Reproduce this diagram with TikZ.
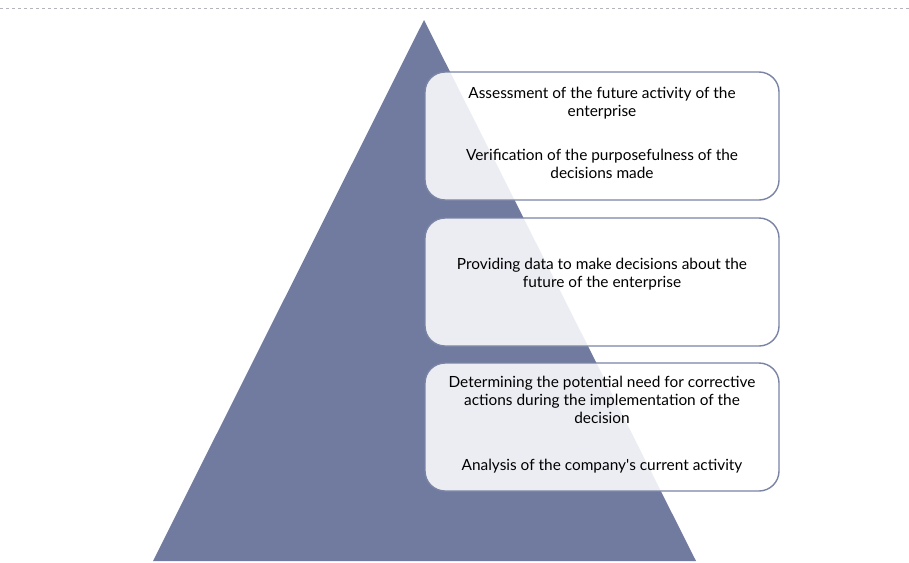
\documentclass[tikz,border=0pt]{standalone}
\usepackage{fontspec}
\setmainfont{Lato}
\definecolor{tri}{RGB}{113,123,160}
\definecolor{edgecol}{RGB}{122,132,165}
\definecolor{dashcol}{RGB}{180,180,188}
\tikzset{
  infobox/.style={draw=edgecol, line width=1.4pt, rounded corners=20pt, fill=white, fill opacity=0.87, text opacity=1},
  boxtext/.style={align=center, font=\fontsize{15.4}{18}\selectfont, text=black}
}
\begin{document}
\begin{tikzpicture}[x=1pt,y=-1pt]
\useasboundingbox (0,0) rectangle (909,562);
\draw[draw=dashcol, dashed, line width=1pt] (0,8) -- (909,8);
\fill[tri] (424,20) -- (696,561) -- (153,561) -- cycle;
\draw[infobox] (425,72) rectangle (779,200);
\draw[infobox] (425,218) rectangle (779,346);
\draw[infobox] (425,363) rectangle (779,491);
\node[boxtext] (t1) at (602,103) {Assessment of the future activity of the\\enterprise};
\node[boxtext] (t2) at (602,164) {Verification of the purposefulness of the\\decisions made};
\node[boxtext] (t3) at (602,274) {Providing data to make decisions about the\\future of the enterprise};
\node[boxtext] (t4) at (602,400) {Determining the potential need for corrective\\actions during the implementation of the\\decision};
\node[boxtext] (t5) at (602,466) {Analysis of the company\textquotesingle s current activity};
\end{tikzpicture}
\end{document}
